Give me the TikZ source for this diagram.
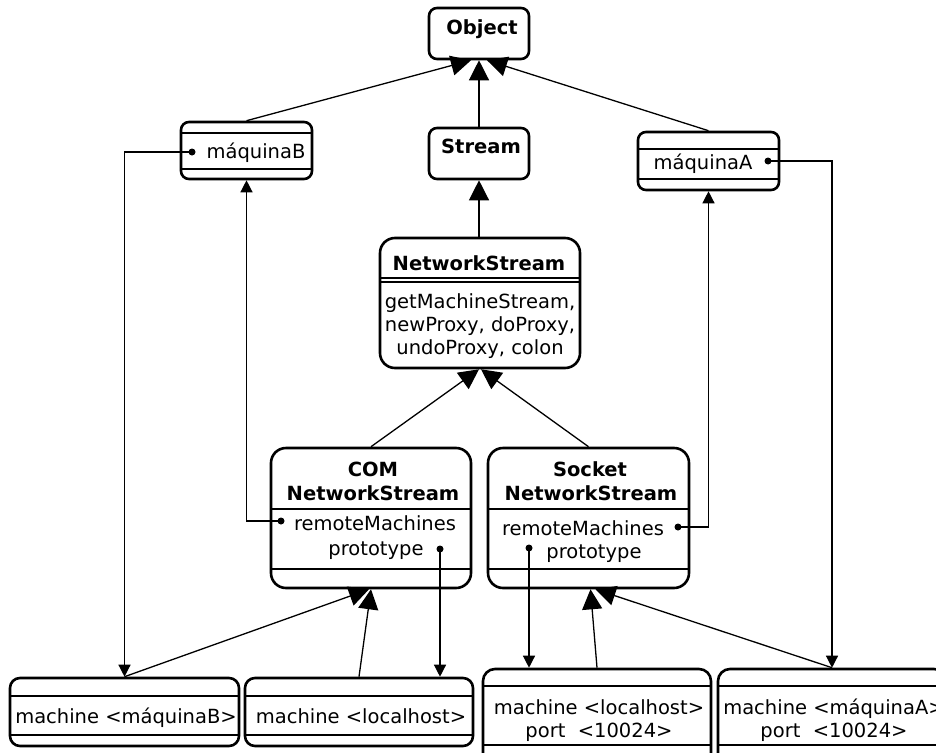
\documentclass[tikz,border=0pt]{standalone}
\usepackage{fontspec}
\setmainfont{DejaVu Sans}
\usetikzlibrary{arrows.meta}
\begin{document}
\begin{tikzpicture}[x=1pt,y=-1pt,
  box/.style={draw, line width=2.6pt, rounded corners=8pt, inner sep=0pt},
  bigbox/.style={box, rounded corners=15pt},
  sep/.style={line width=1.3pt},
  txt/.style={inner sep=0pt, anchor=base, font=\fontsize{19.5}{24}\selectfont},
  btxt/.style={txt, font=\fontsize{19.5}{24}\selectfont\bfseries},
  conn/.style={line width=1.3pt},
  gen/.style={conn, -{Triangle[length=20pt,width=20pt]}},
  ref/.style={conn, -{Triangle[length=12pt,width=12pt]}},
  dot/.style={circle, fill, inner sep=0pt, minimum size=7pt}]
\fill[white] (0,0) rectangle (936,752);
\useasboundingbox (0,0) rectangle (936,752);
\clip (0,0) rectangle (936,752);

% boxes
\node[box, minimum width=100pt, minimum height=51pt] (obj) at (479,33.5) {};
\node[box, minimum width=100pt, minimum height=51pt] (str) at (479,153.5) {};
\node[box, minimum width=131pt, minimum height=57pt] (mb) at (246.5,150.5) {};
\node[box, minimum width=141pt, minimum height=58pt] (ma) at (708.5,161) {};
\node[bigbox, minimum width=200pt, minimum height=130pt] (ns) at (480,303) {};
\node[bigbox, minimum width=200pt, minimum height=140pt] (com) at (371,518) {};
\node[bigbox, minimum width=201pt, minimum height=140pt] (sock) at (588.5,518) {};
\node[box, rounded corners=10pt, minimum width=229pt, minimum height=68pt] (b1) at (124.5,712) {};
\node[box, rounded corners=10pt, minimum width=228pt, minimum height=68pt] (b2) at (359,712) {};
\node[box, rounded corners=12pt, minimum width=228pt, minimum height=96pt] (b3) at (597,717) {};
\node[box, rounded corners=12pt, minimum width=228pt, minimum height=96pt] (b4) at (832,717) {};

% separators
\draw[sep] (181,133) -- (312,133);
\draw[sep] (181,169) -- (312,169);
\draw[sep] (638,149) -- (779,149);
\draw[sep] (638,179) -- (779,179);
\draw[sep] (380,278) -- (580,278);
\draw[sep] (380,282) -- (580,282);
\draw[sep] (271,509) -- (471,509);
\draw[sep] (271,569) -- (471,569);
\draw[sep] (488,509) -- (689,509);
\draw[sep] (488,569) -- (689,569);
\draw[sep] (10,696) -- (239,696);
\draw[sep] (10,735) -- (239,735);
\draw[sep] (245,696) -- (473,696);
\draw[sep] (245,735) -- (473,735);
\draw[sep] (483,686) -- (711,686);
\draw[sep] (483,745) -- (711,745);
\draw[sep] (718,686) -- (946,686);
\draw[sep] (718,745) -- (946,745);

% texts
\node[btxt] (tObj) at (482,35) {Object};
\node[btxt] (tStr) at (481,153.5) {Stream};
\node[txt] (tmb) at (256,158) {máquinaB};
\node[txt] (tma) at (703,169) {máquinaA};
\node[btxt] (tns) at (479,270) {NetworkStream};
\node[txt] (tns1) at (480,308) {getMachineStream,};
\node[txt] (tns2) at (480,331) {newProxy, doProxy,};
\node[txt] (tns3) at (480,354) {undoProxy, colon};
\node[btxt] (tcom1) at (373,476) {COM};
\node[btxt] (tcom2) at (373,500) {NetworkStream};
\node[txt] (tcomrm) at (375,530) {remoteMachines};
\node[txt] (tcompr) at (376,555) {prototype};
\node[btxt] (tsk1) at (590,476) {Socket};
\node[btxt] (tsk2) at (591,500) {NetworkStream};
\node[txt] (tskrm) at (583,535) {remoteMachines};
\node[txt] (tskpr) at (594,558) {prototype};
\node[txt] (tb1) at (126,723) {machine <máquinaB>};
\node[txt] (tb2) at (361,723) {machine <localhost>};
\node[txt] (tb3a) at (599,714) {machine <localhost>};
\node[txt] (tb3b) at (599,737) {port\ \ <10024>};
\node[txt] (tb4a) at (834,714) {machine <máquinaA>};
\node[txt] (tb4b) at (834,737) {port\ \ <10024>};

% dots
\node[dot] (mbdot) at (192,152) {};
\node[dot] (madot) at (768,161) {};
\node[dot] (comrm) at (281,521) {};
\node[dot] (compr) at (440,549) {};
\node[dot] (skrm) at (678,527) {};
\node[dot] (skpr) at (529,548) {};

% generalization arrows
\draw[gen] (mb.north) -- ([xshift=-8pt]obj.south);
\draw[gen] (str.north) -- (obj.south);
\draw[gen] (ma.north) -- ([xshift=8pt]obj.south);
\draw[gen] (str.south |- ns.north) -- (str.south);
\draw[gen] (com.north) -- ([xshift=-1pt]ns.south);
\draw[gen] (sock.north) -- ([xshift=1pt]ns.south);
\draw[gen] (b1.north) -- ([xshift=-2pt]com.south);
\draw[gen] (b2.north) -- (com.south);
\draw[gen] (b3.north) -- ([xshift=2pt]sock.south);
\draw[gen] (b4.north) -- ([xshift=7pt]sock.south);

% reference arrows
\draw[ref] (mbdot.center) -| (b1.north);
\draw[ref] (comrm.center) -| (mb.south);
\draw[ref] (compr.center) -- (compr |- b2.north);
\draw[ref] (skpr.center) -- (skpr |- b3.north);
\draw[ref] (skrm.center) -| (ma.south);
\draw[ref] (madot.center) -| (b4.north);
\end{tikzpicture}
\end{document}
